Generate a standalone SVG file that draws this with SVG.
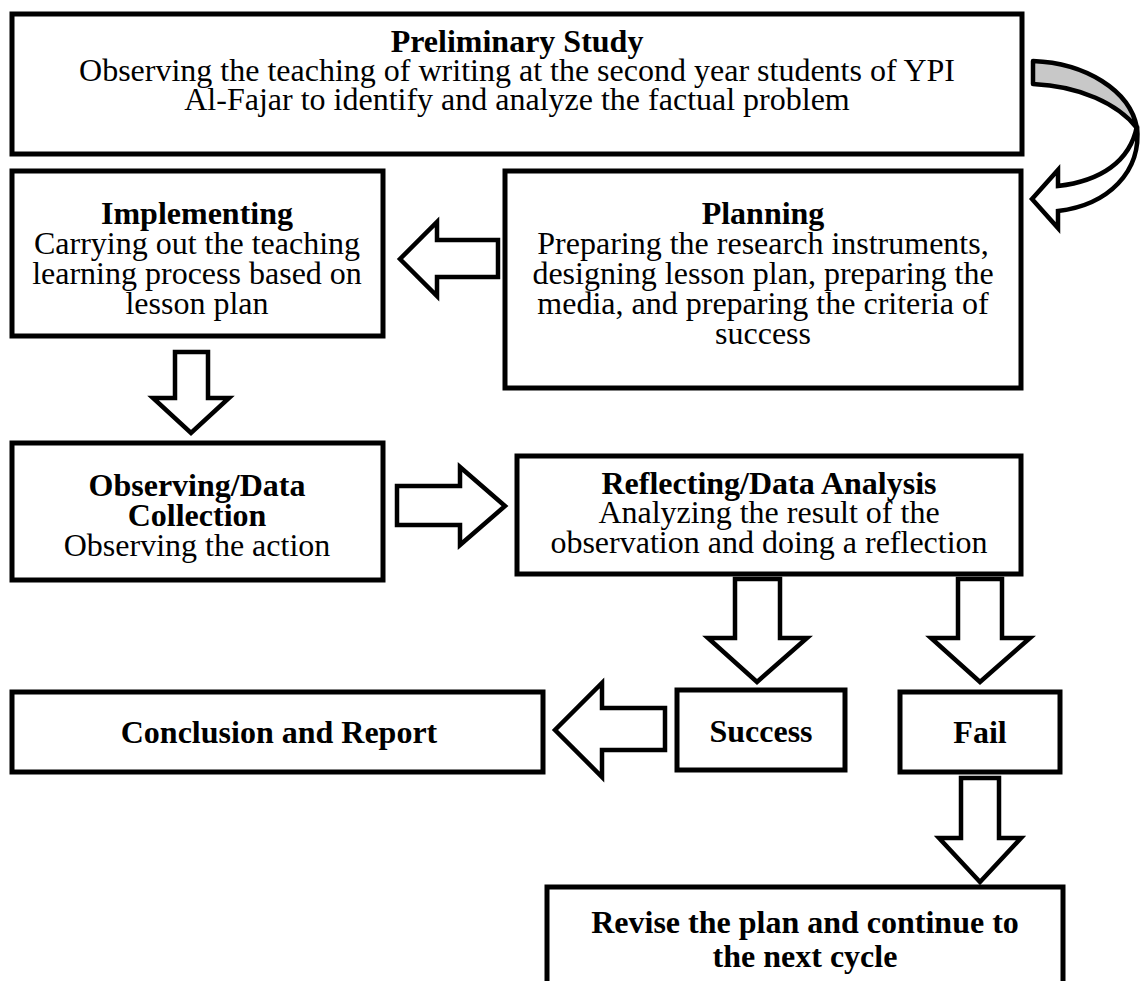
<svg xmlns="http://www.w3.org/2000/svg" width="1144" height="981" viewBox="0 0 1144 981">
<style>
.box{fill:#fff;stroke:#000;stroke-width:5}
.arr{fill:#fff;stroke:#000;stroke-width:4.5;stroke-linejoin:miter}
text{font-family:"Liberation Serif","Times New Roman",serif;font-size:32px;fill:#000;text-anchor:middle}
.b{font-weight:bold}
</style>
<rect width="1144" height="981" fill="#fff"/>
<g id="prelim">
<rect class="box" x="12" y="14" width="1010" height="140"/>
<text class="b" x="517" y="52">Preliminary Study</text>
<text x="517" y="81">Observing the teaching of writing at the second year students of YPI</text>
<text x="517" y="110">Al-Fajar to identify and analyze the factual problem</text>
</g>
<g id="implementing">
<rect class="box" x="12" y="171" width="371" height="165"/>
<text class="b" x="197" y="224">Implementing</text>
<text x="197" y="254">Carrying out the teaching</text>
<text x="197" y="284">learning process based on</text>
<text x="197" y="314">lesson plan</text>
</g>
<g id="planning">
<rect class="box" x="505" y="171" width="516" height="217"/>
<text class="b" x="763" y="224">Planning</text>
<text x="763" y="254">Preparing the research instruments,</text>
<text x="763" y="284">designing lesson plan, preparing the</text>
<text x="763" y="314">media, and preparing the criteria of</text>
<text x="763" y="344">success</text>
</g>
<g id="observing">
<rect class="box" x="12" y="443" width="371" height="137"/>
<text class="b" x="197" y="496">Observing/Data</text>
<text class="b" x="197" y="526">Collection</text>
<text x="197" y="556">Observing the action</text>
</g>
<g id="reflecting">
<rect class="box" x="517" y="456" width="504" height="118"/>
<text class="b" x="769" y="494">Reflecting/Data Analysis</text>
<text x="769" y="523">Analyzing the result of the</text>
<text x="769" y="553">observation and doing a reflection</text>
</g>
<g id="conclusion">
<rect class="box" x="12" y="692" width="531" height="80"/>
<text class="b" x="279" y="743">Conclusion and Report</text>
</g>
<g id="success">
<rect class="box" x="677" y="690" width="168" height="80"/>
<text class="b" x="761" y="742">Success</text>
</g>
<g id="fail">
<rect class="box" x="900" y="692" width="160" height="80"/>
<text class="b" x="980" y="743">Fail</text>
</g>
<g id="revise">
<rect class="box" x="547" y="887" width="516" height="120"/>
<text class="b" x="805" y="933">Revise the plan and continue to</text>
<text class="b" x="805" y="967">the next cycle</text>
</g>
<g id="connectors">
<path d="M1033,61 C1085,63 1130,90 1137,128 C1118,104 1080,86 1033,84 Z" fill="#c8c8c8" stroke="#000" stroke-width="4.5" stroke-linejoin="round"/>
<path class="arr" d="M1137,126 C1130,162 1100,181 1058,186 L1058,170 L1032,199 L1058,228 L1058,211 C1108,205 1142,172 1137,126 Z"/>
<polygon class="arr" points="498,240 437,240 437,222 400,259 437,296 437,277 498,277"/>
<polygon class="arr" points="175,352 208,352 208,398 229,398 191,433 153,398 175,398"/>
<polygon class="arr" points="397,486 460,486 460,467 505,506 460,545 460,525 397,525"/>
<polygon class="arr" points="735,579 780,579 780,638 807,638 757,682 708,638 735,638"/>
<polygon class="arr" points="958,579 1002,579 1002,638 1030,638 980,682 931,638 958,638"/>
<polygon class="arr" points="665,708 602,708 602,683 555,730 602,777 602,750 665,750"/>
<polygon class="arr" points="961,778 999,778 999,838 1021,838 980,882 939,838 961,838"/>
</g>
</svg>
